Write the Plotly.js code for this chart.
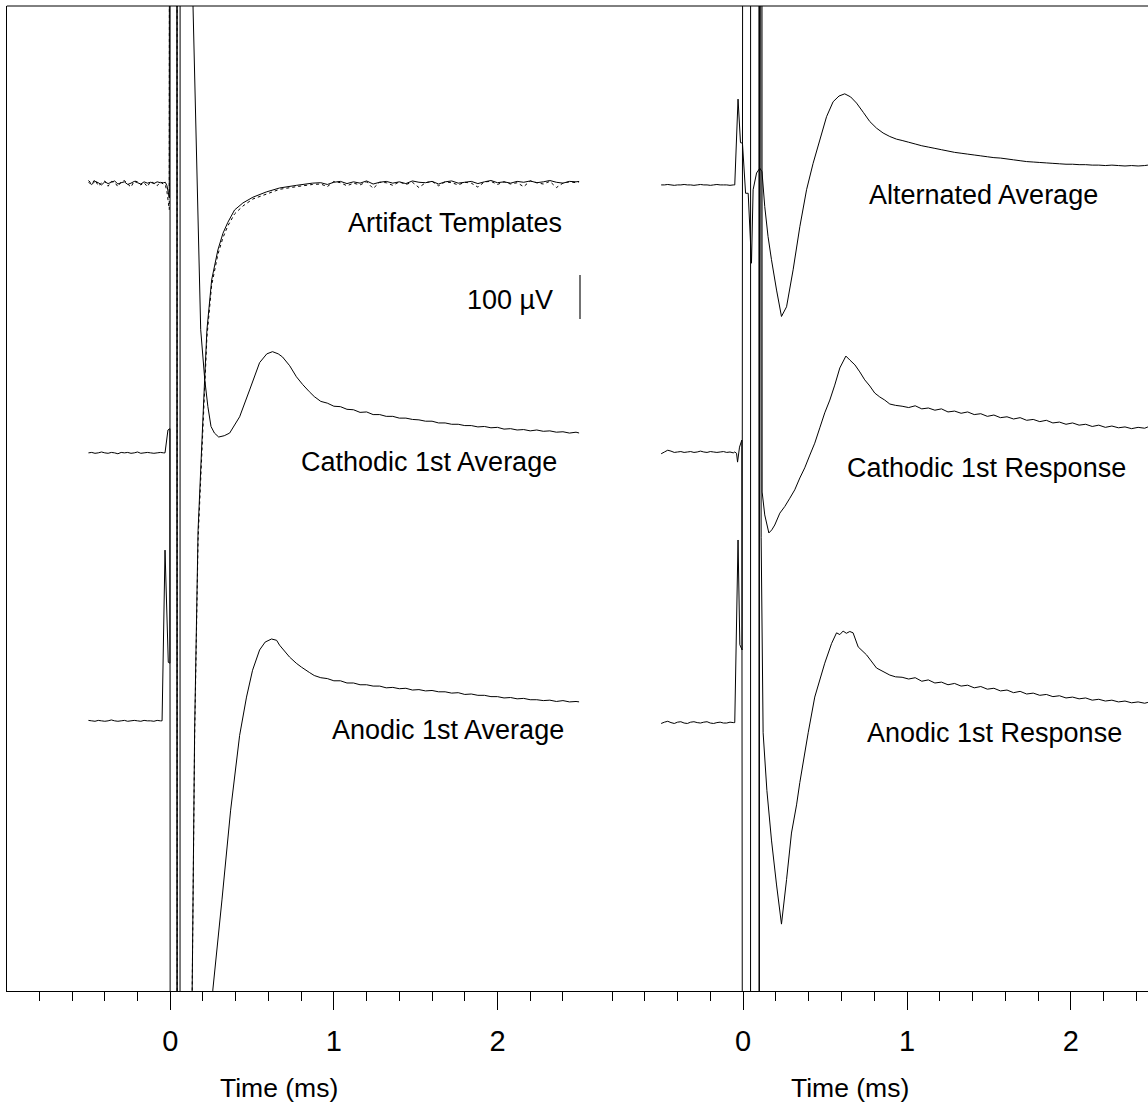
<!DOCTYPE html>
<html><head><meta charset="utf-8">
<script src="https://cdn.plot.ly/plotly-3.0.1.min.js"></script>
<style>html,body{margin:0;padding:0;background:#fff}#chart{width:1148px;height:1112px}</style>
</head><body><div id="chart"></div>
<script>
// ---------- DATA (time in ms, amplitude in µV relative to each trace's baseline) ----------
// shared pre-stimulus time grid
const tPre = [-0.5,-0.48,-0.46,-0.44,-0.42,-0.4,-0.38,-0.36,-0.34,-0.32,-0.3,-0.28,-0.26,-0.24,-0.22,-0.2,-0.18,-0.16,-0.14,-0.12,-0.1,-0.08,-0.06];
// late time grids
const tLateL = [0.92,0.96,1.0,1.04,1.08,1.12,1.16,1.2,1.24,1.28,1.32,1.36,1.4,1.44,1.48,1.52,1.56,1.6,1.64,1.68,1.72,1.76,1.8,1.84,1.88,1.92,1.96,2.0,2.04,2.08,2.12,2.16,2.2,2.24,2.28,2.32,2.36,2.4,2.44,2.48,2.5];
const tLateR = [0.97,1.01,1.05,1.09,1.13,1.17,1.21,1.25,1.29,1.33,1.37,1.41,1.45,1.49,1.53,1.57,1.61,1.65,1.69,1.73,1.77,1.81,1.85,1.89,1.93,1.97,2.01,2.05,2.09,2.13,2.17,2.21,2.25,2.29,2.33,2.37,2.41,2.45,2.47];

// ---- Left panel: Artifact Templates (solid + dotted) ----
const tplPreSolid  = [2,-3,4,1,-4,3,-1,2,5,-2,1,3,-3,0,4,1,-2,3,0,2,-1,3,1];
const tplPreDotted = [6,-1,8,-6,0,5,-7,4,2,-8,3,6,-2,-9,5,3,-4,1,-8,4,0,-6,3];
const tTplMid = [-0.04,-0.03,-0.02,-0.006,0.002,0.041,0.043,0.128,0.134,0.149,0.170,0.190,0.210,0.224,0.253,0.291,0.322,0.352,0.393,0.444,0.505,0.587,0.668,0.771,0.869];
const tplMidSolid  = [1,2,-6,-33,5000,5000,-5000,-5000,-1834,-1243,-789,-618,-448,-334,-220,-152,-114,-89,-61,-45,-32,-20,-11,-5,0];
const tplMidDotted = [-3,-4,-20,-60,5000,5000,-5000,-5000,-1834,-1260,-810,-640,-470,-350,-232,-162,-124,-97,-70,-52,-36,-25,-14,-8,-3];
const tplLateSolid  = [1,-3,2,4,-1,3,0,5,-2,2,4,0,3,-1,5,2,1,4,-2,3,5,0,2,4,-1,3,6,1,3,0,4,2,5,1,3,6,2,0,4,3,4];
const tplLateDotted = [-2,-8,4,1,-6,0,-4,3,-12,2,1,-5,3,-3,2,-10,1,4,-6,3,1,-4,2,0,-9,3,4,-3,3,-2,1,-8,5,1,-2,4,-10,0,3,1,3];

// ---- Left panel: Cathodic 1st Average ----
const cathAvgPre = [0,1,-1,0,2,0,-1,1,0,-2,1,0,1,-1,0,2,-1,0,1,0,-1,0,1];
const tCathAvgMid = [-0.04,-0.032,-0.014,-0.002,0.003,0.059,0.061,0.125,0.139,0.186,0.211,0.230,0.249,0.27,0.296,0.33,0.363,0.424,0.485,0.546,0.59,0.625,0.66,0.686,0.73,0.771,0.81,0.85,0.88];
const cathAvgMid = [0,0,52,55,-5000,-5000,5000,5000,1016,280,166,105,60,45,36,39,45,82,143,205,225,230,225,218,198,173,155,139,128];
const cathAvgLate = [117,113,106,105,99,98,92,93,87,87,83,83,79,79,76,75,72,72,68,68,65,65,62,62,59,60,57,58,54,55,52,53,50,52,49,50,47,48,45,47,45];

// ---- Left panel: Anodic 1st Average ----
const anodAvgPre = [1,0,-1,1,0,-1,0,2,0,-1,0,1,-1,0,1,0,-1,1,0,0,-1,1,0];
const tAnodAvgMid = [-0.05,-0.032,-0.012,-0.002,0.001,0.040,0.042,0.2,0.26,0.316,0.369,0.424,0.466,0.503,0.546,0.58,0.619,0.65,0.668,0.729,0.77,0.802,0.85,0.88];
const anodAvgMid = [0,388,133,131,5000,5000,-5000,-5000,-612,-407,-203,-33,54,115,161,179,186,183,172,145,131,122,110,103];
const anodAvgLate = [98,96,91,91,86,86,82,82,79,79,75,76,73,74,70,71,68,69,66,66,63,64,60,61,58,58,55,55,52,53,50,51,48,48,46,47,44,46,43,44,43];

// ---- Right panel: Alternated Average ----
const altPre = [0,0,1,0,-1,0,0,1,0,0,-1,0,1,0,0,-1,0,1,0,0,0,-1,0];
const tAltMid = [-0.051,-0.031,-0.016,-0.004,0.015,0.031,0.051,0.061,0.082,0.102,0.115,0.132,0.152,0.173,0.204,0.234,0.265,0.305,0.346,0.387,0.427,0.468,0.509,0.549,0.585,0.62,0.656,0.692,0.733,0.773,0.814,0.854,0.895,0.936];
const altMid = [0,195,96,95,-19,-19,-178,-11,27,38,30,-49,-117,-170,-239,-299,-277,-193,-95,-11,49,102,155,189,202,207,200,186,165,144,129,118,110,104];
const altLate = [101,97,93,89,86,83,80,77,74,72,70,68,66,64,62,61,59,57,55,53,52,51,50,49,48,47,47,46,46,45,45,44,45,44,43,44,43,44,45];

// ---- Right panel: Cathodic 1st Response ----
const cathRespPre = [-4,0,4,2,-1,0,1,-1,0,1,-1,0,2,0,-1,1,0,-1,0,1,-1,0,-2];
const tCathRespMid = [-0.051,-0.04,-0.034,-0.022,-0.008,0.003,0.045,0.046,0.112,0.116,0.132,0.157,0.175,0.193,0.224,0.254,0.285,0.315,0.346,0.376,0.407,0.437,0.468,0.498,0.529,0.559,0.59,0.627,0.651,0.682,0.712,0.742,0.773,0.803,0.834,0.864,0.895,0.93];
const cathRespMid = [0,-3,-23,11,27,-5000,-5000,5000,5000,-91,-143,-184,-177,-166,-139,-124,-105,-86,-59,-36,-7,20,55,89,118,152,191,218,209,198,182,164,150,134,125,118,109,106];
const cathRespLate = [104,101,105,98,100,95,98,91,93,88,91,85,87,81,84,78,80,75,78,72,74,69,72,66,68,63,66,61,63,58,61,56,59,55,57,53,56,54,57];

// ---- Right panel: Anodic 1st Response ----
const anodRespPre = [-2,1,3,0,-2,1,2,-1,-2,1,2,0,-1,1,2,-1,-2,0,1,-1,-1,1,0];
const tAnodRespMid = [-0.051,-0.031,-0.02,-0.006,0.003,0.096,0.098,0.099,0.1,0.11,0.122,0.145,0.173,0.204,0.234,0.265,0.295,0.326,0.346,0.397,0.437,0.498,0.54,0.57,0.59,0.61,0.63,0.651,0.671,0.702,0.753,0.814,0.895,0.93];
const anodRespMid = [0,415,177,165,5000,5000,-5000,-5000,5000,420,-23,-154,-267,-369,-458,-357,-251,-187,-136,-23,58,135,180,204,200,208,203,207,204,172,154,124,108,104];
const anodRespLate = [103,99,102,94,97,90,92,86,89,83,85,79,82,76,78,72,74,68,71,65,67,62,64,59,61,56,58,54,56,51,53,49,51,47,49,45,47,44,46];

// labels
const labelsLeft  = ['Artifact Templates', 'Cathodic 1st Average', 'Anodic 1st Average'];
const labelsRight = ['Alternated Average', 'Cathodic 1st Response', 'Anodic 1st Response'];
const scaleBarValue = 100; // µV
const scaleBarText = '100 µV';
const xTitle = 'Time (ms)';

// ---------- LAYOUT / STYLE ----------
const W = 1148, H = 1112;
const PLOT_TOP = 6, PLOT_BOTTOM = 991;
const Y_RANGE = 2238.6;            // µV spanned by the plot height
// vertical placement (µV) of each trace's baseline
const offTpl = 1836, offCathAvg = 1223, offAnodAvg = 614;
const offAlt = 1832, offCathResp = 1225, offAnodResp = 610;
const scaleBarBase = 1527;

const FONT = 'Arial, "Liberation Sans", sans-serif';
const LABEL_SIZE = 27;
const px2x = px => px / W;
const px2y = py => (PLOT_BOTTOM - py) / (PLOT_BOTTOM - PLOT_TOP);

function trace(tParts, vParts, off, xa, dash) {
  const x = [].concat(...tParts);
  const y = [].concat(...vParts).map(v => v + off);
  return {type:'scatter', mode:'lines', x, y, xaxis:xa, yaxis:'y',
    line:{color:'#000', width:1, dash:dash || 'solid', simplify:false},
    hoverinfo:'skip', showlegend:false};
}

const data = [
  trace([tPre, tTplMid, tLateL], [tplPreSolid, tplMidSolid, tplLateSolid], offTpl, 'x'),
  trace([tPre, tTplMid, tLateL], [tplPreDotted, tplMidDotted, tplLateDotted], offTpl, 'x', 'dot'),
  trace([tPre, tCathAvgMid, tLateL], [cathAvgPre, cathAvgMid, cathAvgLate], offCathAvg, 'x'),
  trace([tPre, tAnodAvgMid, tLateL], [anodAvgPre, anodAvgMid, anodAvgLate], offAnodAvg, 'x'),
  trace([tPre, tAltMid, tLateR], [altPre, altMid, altLate], offAlt, 'x2'),
  trace([tPre, tCathRespMid, tLateR], [cathRespPre, cathRespMid, cathRespLate], offCathResp, 'x2'),
  trace([tPre, tAnodRespMid, tLateR], [anodRespPre, anodRespMid, anodRespLate], offAnodResp, 'x2')
];

function xaxisDef(domain, range) {
  return {domain, range, anchor:'y', tickmode:'linear', tick0:0, dtick:1,
    ticks:'outside', ticklen:18, tickwidth:1, tickcolor:'#000',
    minor:{tickmode:'linear', tick0:0, dtick:0.2, ticks:'outside', ticklen:9, tickwidth:1, tickcolor:'#000', showgrid:false},
    showline:true, linecolor:'#000', linewidth:1, showgrid:false, zeroline:false,
    tickfont:{family:FONT, size:29, color:'#000'}, ticklabelstandoff:6,
    fixedrange:true};
}

function label(text, xpx, ypx, size, anchor) {
  return {text, xref:'paper', yref:'paper', x:px2x(anchor === 'center' ? xpx : xpx - 3), y:px2y(ypx),
    xanchor:anchor || 'left', yanchor:'middle',
    showarrow:false, font:{family:FONT, size:size || LABEL_SIZE, color:'#000'}};
}

const layout = {
  width:W, height:H, margin:{l:0, r:0, t:PLOT_TOP, b:H - PLOT_BOTTOM},
  paper_bgcolor:'#fff', plot_bgcolor:'#fff', showlegend:false,
  font:{family:FONT, size:26, color:'#000'},
  xaxis: xaxisDef([px2x(6.8), px2x(579.3)], [-0.999, 2.5]),
  xaxis2: xaxisDef([px2x(579.3), 1], [-0.9995, 2.4703]),
  yaxis:{domain:[0,1], range:[0, Y_RANGE], anchor:'x', showline:true, linecolor:'#000', linewidth:1,
    showticklabels:false, ticks:'', showgrid:false, zeroline:false, fixedrange:true},
  shapes:[
    {type:'line', xref:'paper', yref:'paper', x0:px2x(6.8), x1:1, y0:1, y1:1, line:{color:'#000', width:1}},
    {type:'line', xref:'paper', yref:'paper', x0:px2x(580), x1:px2x(580),
      y0:scaleBarBase / Y_RANGE, y1:(scaleBarBase + scaleBarValue) / Y_RANGE, line:{color:'#444', width:1.5}}
  ],
  annotations:[
    label(labelsLeft[0], 349, 223),
    label(scaleBarText, 468, 300),
    label(labelsLeft[1], 302, 462),
    label(labelsLeft[2], 333, 730),
    label(labelsRight[0], 870, 195),
    label(labelsRight[1], 848, 468),
    label(labelsRight[2], 868, 733),
    label(xTitle, 279, 1088, 26.5, 'center'),
    label(xTitle, 850, 1088, 26.5, 'center')
  ]
};

Plotly.newPlot('chart', data, layout, {staticPlot:true, displayModeBar:false});
</script>
</body></html>
